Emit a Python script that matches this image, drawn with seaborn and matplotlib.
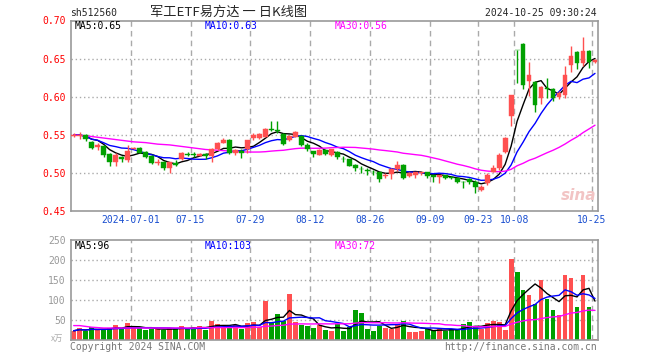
import matplotlib
matplotlib.use("Agg")
import matplotlib.pyplot as plt
import numpy as np
import pandas as pd
import seaborn as sns

sns.set_style("white")
plt.rcParams['font.family'] = ['DejaVu Sans Mono', 'Noto Sans CJK SC']

# daily K-line, 2024-06-17 .. 2024-10-25 (88 trading days)
opens = [
    .549, .549, .550, .541, .534, .536, .525, .515, .521, .517,
    .532, .533, .528, .523, .513, .515, .507, .513, .518, .525,
    .525, .523, .525, .523, .531, .540, .544, .526, .529, .532,
    .546, .546, .548, .558, .556, .551, .543, .548, .549, .537,
    .529, .524, .530, .524, .528, .519, .518, .511, .506, .504,
    .502, .501, .496, .499, .505, .511, .496, .498, .500, .501,
    .498, .495, .497, .495, .493, .489, .492, .489, .478, .487,
    .502, .507, .528, .575, .662, .669, .621, .619, .598, .611,
    .610, .600, .602, .642, .659, .644, .660, .645]
closes = [
    .550, .550, .545, .533, .537, .524, .515, .524, .518, .529,
    .533, .527, .521, .513, .515, .507, .514, .511, .527, .524,
    .524, .525, .522, .532, .540, .543, .526, .530, .527, .543,
    .550, .551, .558, .557, .555, .538, .549, .554, .537, .531,
    .525, .530, .525, .531, .521, .518, .510, .507, .505, .503,
    .501, .492, .498, .505, .511, .494, .500, .501, .501, .496,
    .495, .498, .493, .494, .489, .488, .489, .482, .482, .498,
    .507, .524, .546, .602, .661, .615, .628, .589, .613, .610,
    .599, .605, .629, .654, .644, .660, .645, .648]
highs = [
    .553, .554, .551, .542, .540, .537, .526, .526, .523, .537,
    .534, .534, .529, .524, .518, .516, .515, .517, .528, .528,
    .528, .526, .526, .533, .541, .546, .545, .532, .531, .544,
    .552, .552, .559, .568, .568, .552, .550, .555, .550, .539,
    .529, .531, .531, .532, .529, .522, .518, .512, .509, .507,
    .504, .502, .500, .507, .516, .512, .501, .502, .502, .502,
    .498, .498, .497, .496, .495, .490, .494, .491, .484, .500,
    .511, .526, .547, .603, .662, .670, .646, .621, .614, .625,
    .612, .607, .641, .667, .660, .678, .661, .650]
lows = [
    .548, .545, .542, .532, .530, .521, .509, .509, .515, .514,
    .531, .526, .520, .512, .511, .504, .500, .510, .517, .522,
    .521, .522, .518, .514, .530, .539, .525, .524, .520, .526,
    .544, .545, .547, .555, .552, .537, .542, .547, .536, .529,
    .521, .524, .524, .523, .518, .514, .509, .503, .500, .498,
    .498, .489, .494, .492, .503, .492, .495, .493, .497, .493,
    .488, .487, .492, .492, .487, .480, .486, .474, .476, .485,
    .501, .504, .527, .562, .618, .610, .601, .580, .590, .599,
    .594, .597, .598, .632, .637, .641, .638, .644]
# volume, x10k
volumes = [
    23, 29, 23, 32, 25, 27.5, 31, 37.5, 27.5, 42.5,
    29, 29, 26, 28, 27, 26, 29, 27, 35, 27,
    32, 35, 26, 48, 40, 33, 35, 37, 27, 42,
    45, 32, 98, 42, 65, 48, 116, 46, 37, 35,
    31, 37, 25, 23, 39, 23, 33, 75, 67.5, 27.5,
    23, 36, 31, 28, 40, 48, 21, 21, 23, 27,
    25, 27, 22, 27, 27, 40, 45, 32, 27, 42,
    48, 45, 26, 202, 171, 125, 112.5, 90, 150, 102.5,
    75, 62.5, 162.5, 156, 82.5, 162.5, 82.5, 2.5]
# MA30 before 30 days of history are available
ma30_head = [
    .550, .5495, .549, .548, .547, .546, .545, .544, .543, .542,
    .541, .5405, .540, .539, .538, .5375, .537, .536, .535, .534,
    .533, .532, .531, .5305, .530, .5295, .529, .5285, .528]
vol_ma30_head = [
    36, 36, 34, 32, 31, 30, 30, 30, 30, 30,
    30, 30, 30, 30, 30, 30, 30, 30, 30, 30,
    30, 31, 31, 31, 31, 31, 31, 31, 31]

tick_idx = [10, 20, 30, 40, 50, 60, 68, 74, 87]
tick_labels = ['2024-07-01', '07-15', '07-29', '08-12', '08-26',
               '09-09', '09-23', '10-08', '10-25']

RED = '#ff5050'
GREEN = '#00a000'
BLUE = '#0000ff'
MAG = '#ff00ff'
GRID = '#aaaaaa'
EDGE = '#999999'

n = len(closes)
idx = np.arange(n)
df = pd.DataFrame({'i': idx, 'open': opens, 'close': closes, 'high': highs,
                   'low': lows, 'vol': volumes})
df['up'] = df['close'] >= df['open']
df['ma5'] = df['close'].rolling(5, min_periods=1).mean()
df['ma10'] = df['close'].rolling(10, min_periods=1).mean()
df['ma30'] = df['close'].rolling(30).mean()
df.loc[:28, 'ma30'] = ma30_head
df['vma5'] = df['vol'].rolling(5, min_periods=1).mean()
df['vma10'] = df['vol'].rolling(10, min_periods=1).mean()
df['vma30'] = df['vol'].rolling(30).mean()
df.loc[:28, 'vma30'] = vol_ma30_head

W, H = 660, 360
fig = plt.figure(figsize=(W / 100, H / 100), dpi=100)
L, R = 70.7, 598.0
ax1 = fig.add_axes([L / W, 1 - 211.3 / H, (R - L) / W, (211.3 - 20.5) / H])
ax2 = fig.add_axes([L / W, 1 - 340.0 / H, (R - L) / W, 100.0 / H])


def px(x, y):
    return x / W, 1 - y / H


for ax in (ax1, ax2):
    for s in ax.spines.values():
        s.set_color(EDGE)
        s.set_linewidth(1.2)
    for t in tick_idx:
        ax.axvline(t - 0.5, color=GRID, lw=1, ls=(0, (4, 3)), zorder=0)

colors = np.where(df['up'], RED, GREEN)

# price panel
sns.lineplot(x=df['i'], y=df['ma5'], color='black', lw=1, ax=ax1, zorder=2)
sns.lineplot(x=df['i'], y=df['ma10'], color=BLUE, lw=1, ax=ax1, zorder=2)
sns.lineplot(x=df['i'], y=df['ma30'], color=MAG, lw=1, ax=ax1, zorder=2)
ax1.vlines(df['i'], df['low'], df['high'], colors=colors, lw=1, zorder=3)
body_lo = np.minimum(df['open'], df['close'])
body_h = np.maximum(np.abs(df['close'] - df['open']), 0.0008)
ax1.bar(df['i'], body_h, bottom=body_lo, width=0.8, color=colors,
        edgecolor=colors, linewidth=0.3, zorder=4)
ax1.set_xlim(-0.5, n - 0.5)
ax1.set_ylim(0.45, 0.70)
for g in [0.50, 0.55, 0.60, 0.65]:
    ax1.axhline(g, color=GRID, lw=1, ls=(0, (1, 2)), zorder=0)
ax1.set_yticks([0.45, 0.50, 0.55, 0.60, 0.65, 0.70])
ax1.set_yticklabels(['0.45', '0.50', '0.55', '0.60', '0.65', '0.70'])
ax1.set_xticks([t - 0.5 for t in tick_idx])
ax1.set_xticklabels(tick_labels)
ax1.tick_params(axis='y', length=0, pad=3.5, labelsize=7, labelcolor='red')
ax1.tick_params(axis='x', length=0, pad=3, labelsize=7, labelcolor='#1a4fd0')
ax1.set_xlabel('')
ax1.set_ylabel('')

# volume panel
ax2.bar(df['i'], df['vol'], width=0.8, color=colors, linewidth=0, zorder=2)
sns.lineplot(x=df['i'], y=df['vma5'], color='black', lw=1, ax=ax2, zorder=4)
sns.lineplot(x=df['i'], y=df['vma10'], color=BLUE, lw=1, ax=ax2, zorder=4)
sns.lineplot(x=df['i'], y=df['vma30'], color=MAG, lw=1, ax=ax2, zorder=4)
ax2.set_xlim(-0.5, n - 0.5)
ax2.set_ylim(0, 250)
for g in [50, 100, 150, 200]:
    ax2.axhline(g, color=GRID, lw=1, ls=(0, (1, 2)), zorder=0)
ax2.set_yticks([50, 100, 150, 200, 250])
ax2.set_yticklabels(['50', '100', '150', '200', '250'])
ax2.set_xticks([])
ax2.tick_params(axis='y', length=0, pad=3.5, labelsize=7, labelcolor='#999999')
ax2.set_xlabel('')
ax2.set_ylabel('')

# texts
fs = 7
fig.text(*px(70, 13), 'sh512560', fontsize=fs, va='center', ha='left')
fig.text(*px(229, 12), '军工ETF易方达 一 日K线图', fontsize=9.5, va='center',
         ha='center', family=['Noto Sans CJK SC', 'DejaVu Sans'])
fig.text(*px(597, 13), '2024-10-25 09:30:24', fontsize=fs, va='center', ha='right')
fig.text(*px(75, 26), 'MA5:0.65', fontsize=fs, va='center', color='black')
fig.text(*px(205, 26), 'MA10:0.63', fontsize=fs, va='center', color=BLUE)
fig.text(*px(335, 26), 'MA30:0.56', fontsize=fs, va='center', color=MAG)
fig.text(*px(75, 246), 'MA5:96', fontsize=fs, va='center', color='black')
fig.text(*px(205, 246), 'MA10:103', fontsize=fs, va='center', color=BLUE)
fig.text(*px(335, 246), 'MA30:72', fontsize=fs, va='center', color=MAG)
fig.text(*px(70, 347), 'Copyright 2024 SINA.COM', fontsize=fs, va='center',
         color='#777777')
fig.text(*px(597, 347), 'http://finance.sina.com.cn', fontsize=fs, va='center',
         ha='right', color='#777777')
fig.text(*px(63, 338), 'x万', fontsize=6, va='center', ha='right', color='#aaaaaa',
         family=['Noto Sans CJK SC', 'DejaVu Sans'])
fig.text(*px(596, 195), 'sina', fontsize=11, va='center', ha='right',
         color='#f2c4c4', style='italic', weight='bold', family='DejaVu Sans')

fig.savefig('out.png', dpi=100)
